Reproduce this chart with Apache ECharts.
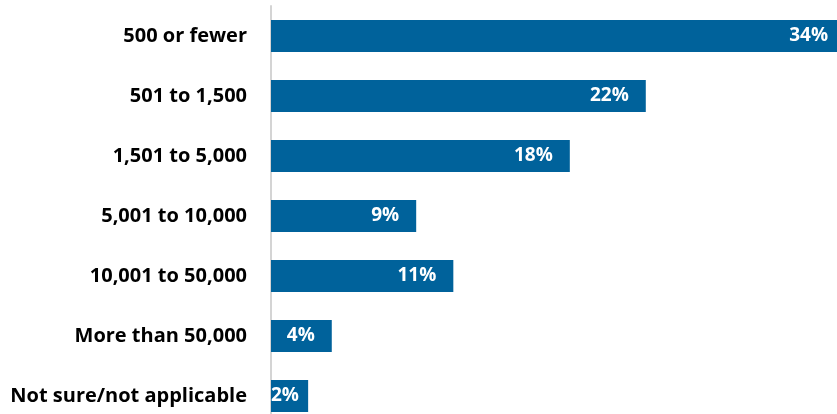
<!DOCTYPE html>
<html><head><meta charset="utf-8">
<script src="https://cdn.jsdelivr.net/npm/echarts@6/dist/echarts.min.js"></script>
<style>html,body{margin:0;padding:0;background:#fff}#c{width:837px;height:414px}</style>
</head><body><div id="c"></div>
<script>
const categories = ["500 or fewer","501 to 1,500","1,501 to 5,000","5,001 to 10,000","10,001 to 50,000","More than 50,000","Not sure/not applicable"];
const values = [34.0, 22.2, 17.7, 8.6, 10.8, 3.6, 2.2];
const labels = ["34%","22%","18%","9%","11%","4%","2%"];

const chart = echarts.init(document.getElementById('c'), null, {renderer:'canvas'});
const font = '"Open Sans", "Liberation Sans", sans-serif';
chart.setOption({
  animation:false,
  grid:{left:271, width:574, top:6, height:420, containLabel:false, outerBoundsMode:'none'},
  xAxis:{type:'value', min:0, max:34, show:false},
  yAxis:{type:'category', data:categories, inverse:true,
    axisLine:{show:true, lineStyle:{color:'#d4d4d4', width:2}},
    axisTick:{show:false},
    axisLabel:{margin:24, color:'#000', fontFamily:font, fontWeight:'bold', fontSize:20}},
  series:[{type:'bar', barWidth:32,
    itemStyle:{color:'#00629B'},
    data: values.map((v,i)=>({value:v, label: i===values.length-1 ? {position:'insideLeft', distance:0} : undefined})),
    label:{show:true, position:'insideRight', distance:17, color:'#fff', fontFamily:font, fontWeight:'bold', fontSize:19,
      formatter:p=>labels[p.dataIndex]}
  }]
});
</script></body></html>
